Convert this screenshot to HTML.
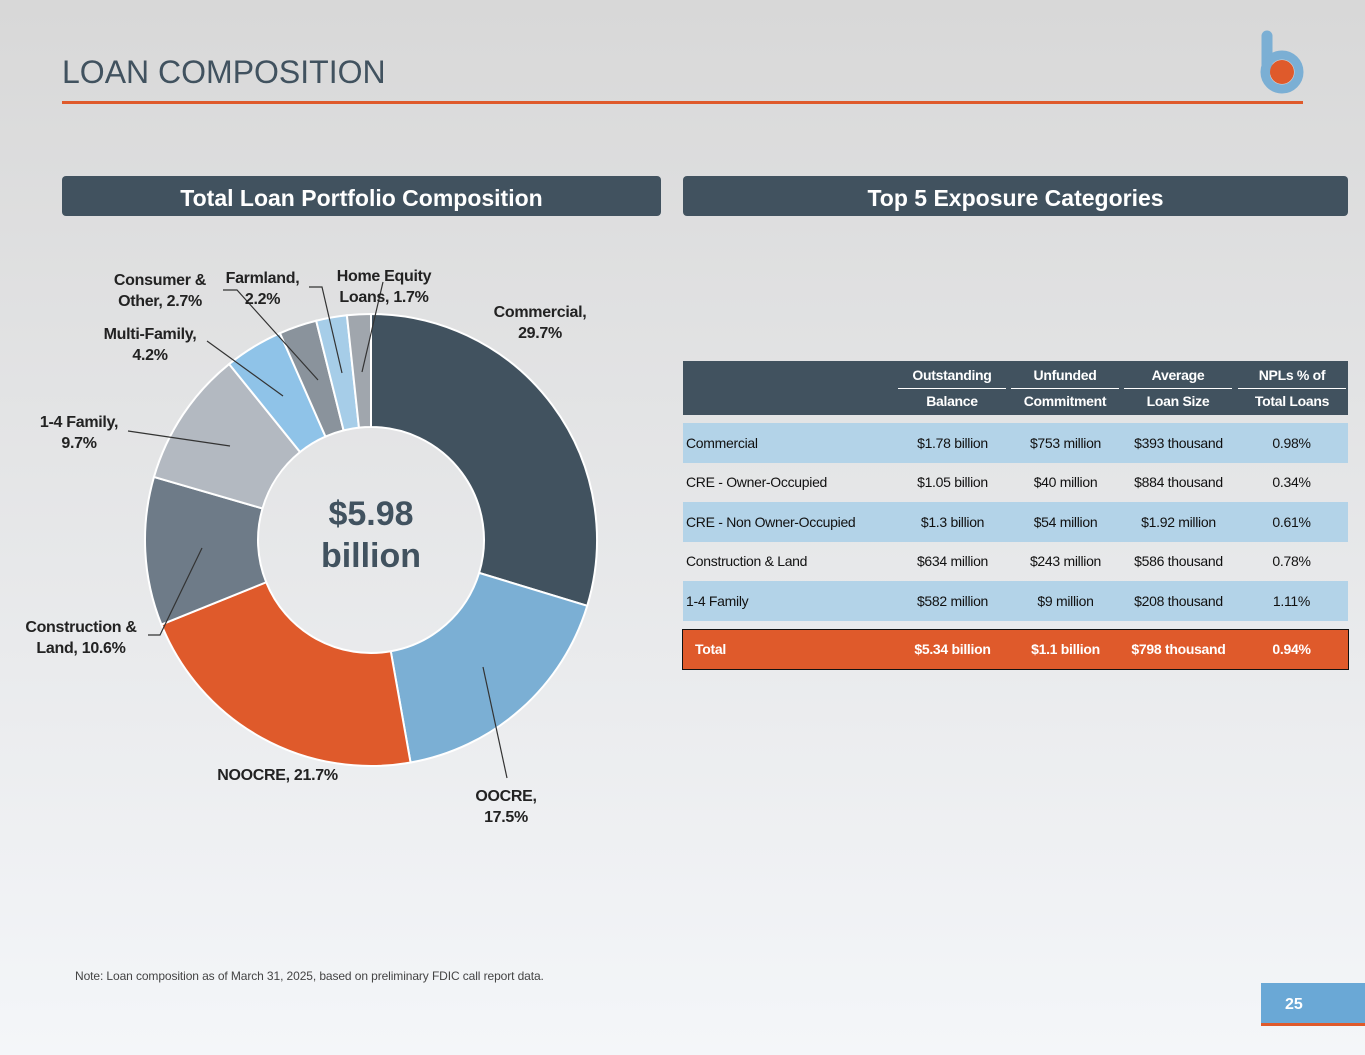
<!DOCTYPE html>
<html><head><meta charset="utf-8"><style>
body{margin:0;width:1365px;height:1055px;overflow:hidden;font-family:"Liberation Sans",sans-serif;background:linear-gradient(#d8d8d8,#f4f6f9);position:relative}
.abs{position:absolute}
.hdr{position:absolute;top:176px;height:40px;background:#41525f;border-radius:4px;color:#fff;font-weight:bold;font-size:23px;text-align:center;line-height:44px}
table{border-collapse:collapse;font-size:14px;color:#111;letter-spacing:-0.3px}
td{padding:0;height:39.5px;text-align:center}
td:first-child{text-align:left;padding-left:3px}
.lbl{position:absolute;font-weight:bold;font-size:16px;color:#222;text-align:center;line-height:21px;letter-spacing:-0.3px}
</style></head><body>
<div class="abs" style="left:62px;top:54px;font-size:32px;color:#41525f;letter-spacing:0">LOAN COMPOSITION</div>
<div class="abs" style="left:62px;top:101px;width:1241px;height:3px;background:#df5a2b"></div>
<svg class="abs" style="left:1255px;top:26px" width="52" height="70"><line x1="12" y1="10" x2="12" y2="44" stroke="#7bafd4" stroke-width="11" stroke-linecap="round"/><circle cx="27" cy="46" r="17" fill="none" stroke="#7bafd4" stroke-width="9"/><circle cx="27" cy="46" r="12" fill="#df5a2b"/></svg>
<div class="hdr" style="left:62px;width:599px">Total Loan Portfolio Composition</div>
<div class="hdr" style="left:683px;width:665px">Top 5 Exposure Categories</div>
<svg class="abs" id="pie" style="left:0;top:0" width="680" height="900"></svg>
<div class="lbl" style="left:480px;top:302px;width:120px">Commercial,<br>29.7%</div>
<div class="lbl" style="left:456px;top:786px;width:100px">OOCRE,<br>17.5%</div>
<div class="lbl" style="left:200px;top:765px;width:155px">NOOCRE, 21.7%</div>
<div class="lbl" style="left:15px;top:617px;width:132px">Construction &amp;<br>Land, 10.6%</div>
<div class="lbl" style="left:25px;top:412px;width:108px">1-4 Family,<br>9.7%</div>
<div class="lbl" style="left:90px;top:324px;width:120px">Multi-Family,<br>4.2%</div>
<div class="lbl" style="left:100px;top:270px;width:120px">Consumer &amp;<br>Other, 2.7%</div>
<div class="lbl" style="left:215px;top:268px;width:95px">Farmland,<br>2.2%</div>
<div class="lbl" style="left:325px;top:266px;width:118px">Home Equity<br>Loans, 1.7%</div>
<div class="abs" style="left:291px;top:493px;width:160px;text-align:center;font-weight:bold;font-size:34px;line-height:42px;color:#41525f">$5.98<br>billion</div>
<div class="abs" style="left:683px;top:361px;width:665px">
<div style="height:54px;background:#41525f;color:#fff;font-weight:bold;font-size:14px;position:relative;letter-spacing:-0.3px">
<div style="position:absolute;left:215px;width:108px;top:2px;text-align:center;line-height:25px">Outstanding<br><span style="border-top:1.5px solid #fff;display:block;width:108px">Balance</span></div>
<div style="position:absolute;left:328px;width:108px;top:2px;text-align:center;line-height:25px">Unfunded<br><span style="border-top:1.5px solid #fff;display:block">Commitment</span></div>
<div style="position:absolute;left:441px;width:108px;top:2px;text-align:center;line-height:25px">Average<br><span style="border-top:1.5px solid #fff;display:block">Loan Size</span></div>
<div style="position:absolute;left:555px;width:108px;top:2px;text-align:center;line-height:25px">NPLs % of<br><span style="border-top:1.5px solid #fff;display:block">Total Loans</span></div>
</div>
<table style="width:665px;margin-top:8px">
<colgroup><col style="width:213px"><col style="width:113px"><col style="width:113px"><col style="width:113px"><col style="width:113px"></colgroup>
<tr style="background:#b3d3e8"><td>Commercial</td><td>$1.78 billion</td><td>$753 million</td><td>$393 thousand</td><td>0.98%</td></tr>
<tr><td>CRE - Owner-Occupied</td><td>$1.05 billion</td><td>$40 million</td><td>$884 thousand</td><td>0.34%</td></tr>
<tr style="background:#b3d3e8"><td>CRE - Non Owner-Occupied</td><td>$1.3 billion</td><td>$54 million</td><td>$1.92 million</td><td>0.61%</td></tr>
<tr><td>Construction &amp; Land</td><td>$634 million</td><td>$243 million</td><td>$586 thousand</td><td>0.78%</td></tr>
<tr style="background:#b3d3e8"><td>1-4 Family</td><td>$582 million</td><td>$9 million</td><td>$208 thousand</td><td>1.11%</td></tr>
</table>
<table style="width:665px;margin-top:9px;background:#df5a2b;color:#fff;font-weight:bold;outline:1.5px solid #111">
<colgroup><col style="width:213px"><col style="width:113px"><col style="width:113px"><col style="width:113px"><col style="width:113px"></colgroup>
<tr><td style="padding-left:12px">Total</td><td>$5.34 billion</td><td>$1.1 billion</td><td>$798 thousand</td><td>0.94%</td></tr></table>
</div>
<div class="abs" style="left:75px;top:969px;font-size:12px;color:#444;letter-spacing:-0.1px">Note: Loan composition as of March 31, 2025, based on preliminary FDIC call report data.</div>
<div class="abs" style="left:1261px;top:983px;width:104px;height:40px;background:#6aa8d6;color:#fff;font-weight:bold;font-size:16px;text-align:left;text-indent:24px;line-height:44px;border-bottom:3px solid #df5a2b">25</div>
<script>
const categories=["Commercial","OOCRE","NOOCRE","Construction & Land","1-4 Family","Multi-Family","Consumer & Other","Farmland","Home Equity Loans"];
const values=[29.7,17.5,21.7,10.6,9.7,4.2,2.7,2.2,1.7];
const colors=["#41525f","#7bafd4","#df5a2b","#6e7b88","#b3b9c1","#8fc3e8","#8a939c","#a6cde8","#a0a6ad"];
const svg=document.getElementById('pie');const NS="http://www.w3.org/2000/svg";
const cx=371,cy=540,R=226,r=113;
const total=values.reduce((a,b)=>a+b,0);
function pt(a,rad){return [cx+rad*Math.sin(a),cy-rad*Math.cos(a)];}
let acc=0;
values.forEach((v,i)=>{
 const a0=acc/total*2*Math.PI;acc+=v;const a1=acc/total*2*Math.PI;
 const lg=(a1-a0)>Math.PI?1:0;
 const [x0,y0]=pt(a0,R),[x1,y1]=pt(a1,R),[x2,y2]=pt(a1,r),[x3,y3]=pt(a0,r);
 const p=document.createElementNS(NS,'path');
 p.setAttribute('d',`M${x0},${y0}A${R},${R} 0 ${lg} 1 ${x1},${y1}L${x2},${y2}A${r},${r} 0 ${lg} 0 ${x3},${y3}Z`);
 p.setAttribute('fill',colors[i]);p.setAttribute('stroke','#fff');p.setAttribute('stroke-width','2');
 
 
 svg.appendChild(p);
});
const leaders=[[483,667,507,778],[202,548,160,635,148,635],[128,431,230,446],[207,341,283,396],[223,290,237,290,318,380],[309,287,322,287,342,373],[383,282,362,372]];
leaders.forEach(l=>{const pl=document.createElementNS(NS,'polyline');let s='';for(let k=0;k<l.length;k+=2)s+=l[k]+','+l[k+1]+' ';pl.setAttribute('points',s);pl.setAttribute('fill','none');pl.setAttribute('stroke','#333');pl.setAttribute('stroke-width','1.2');


svg.appendChild(pl);});
</script>
</body></html>
